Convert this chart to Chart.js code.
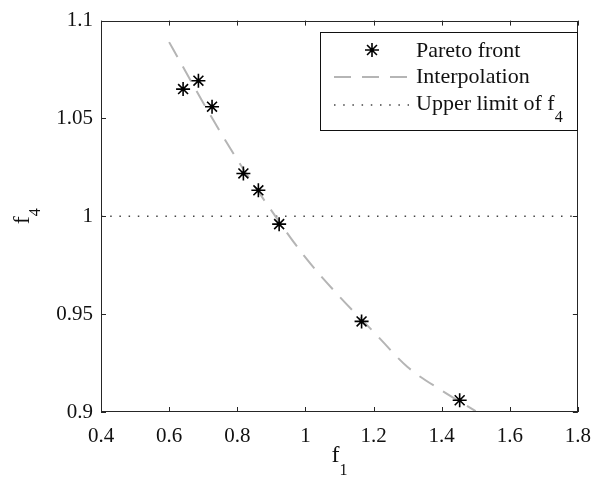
<!DOCTYPE html>
<html><head><meta charset="utf-8">
<script src="https://cdn.jsdelivr.net/npm/chart.js@4/dist/chart.umd.min.js"></script>
<style>html,body{margin:0;padding:0;background:#fff;}</style>
</head><body>
<canvas id="c" width="603" height="477"></canvas>
<script>
// Pareto front points (f1, f4)
const paretoF1 = [0.641, 0.686, 0.726, 0.818, 0.862, 0.923, 1.165, 1.453];
const paretoF4 = [1.065, 1.0693, 1.056, 1.0219, 1.0133, 0.996, 0.9463, 0.906];
// Interpolation curve
const interpF1 = [0.6, 0.65, 0.7, 0.8, 0.9, 1.0, 1.1, 1.2, 1.3, 1.4, 1.5];
const interpF4 = [1.089, 1.0735, 1.058, 1.029, 1.003, 0.979, 0.959, 0.941, 0.923, 0.911, 0.9005];
// Upper limit of f4
const limitF1 = [0.4, 1.8];
const limitF4 = [1, 1];
// Ticks
const xTickValues = [0.4, 0.6, 0.8, 1.0, 1.2, 1.4, 1.6, 1.8];
const xTickLabels = ['0.4', '0.6', '0.8', '1', '1.2', '1.4', '1.6', '1.8'];
const yTickValues = [0.9, 0.95, 1.0, 1.05, 1.1];
const yTickLabels = ['0.9', '0.95', '1', '1.05', '1.1'];
const legendLabels = ['Pareto front', 'Interpolation', 'Upper limit of f'];

const FONT = '"Liberation Serif", "Times New Roman", serif';
const DASH = [17, 11];
const DOT = [1.5, 7.7];
const GRAY = '#b5b5b5';

const toPts = (xs, ys) => xs.map((v, i) => ({x: v, y: ys[i]}));

const deco = {
  id: 'deco',
  afterDraw(chart) {
    const ctx = chart.ctx, a = chart.chartArea, x = chart.scales.x, y = chart.scales.y;
    ctx.save();
    ctx.strokeStyle = '#262626';
    ctx.lineWidth = 1;
    ctx.strokeRect(Math.round(a.left) + 0.5, Math.round(a.top) + 0.5,
                   Math.round(a.right - a.left) - 1, Math.round(a.bottom - a.top) - 1);
    ctx.beginPath();
    xTickValues.forEach(v => {
      const px = Math.round(x.getPixelForValue(v)) + 0.5;
      ctx.moveTo(px, a.bottom); ctx.lineTo(px, a.bottom - 5);
      ctx.moveTo(px, a.top); ctx.lineTo(px, a.top + 5);
    });
    yTickValues.forEach(v => {
      const py = Math.round(y.getPixelForValue(v)) + 0.5;
      ctx.moveTo(a.left, py); ctx.lineTo(a.left + 5, py);
      ctx.moveTo(a.right, py); ctx.lineTo(a.right - 5, py);
    });
    ctx.stroke();

    // axis titles with subscripts
    ctx.fillStyle = '#111';
    ctx.textBaseline = 'alphabetic';
    ctx.textAlign = 'left';
    const big = '24px ' + FONT, small = '16px ' + FONT;
    ctx.font = big; const wf = ctx.measureText('f').width;
    ctx.font = small; const w1 = ctx.measureText('1').width;
    const cx = (a.left + a.right) / 2;
    let sx = cx - (wf + w1) / 2;
    ctx.font = big; ctx.fillText('f', sx, 462);
    ctx.font = small; ctx.fillText('1', sx + wf, 475);

    ctx.save();
    ctx.translate(29, (a.top + a.bottom) / 2);
    ctx.rotate(-Math.PI / 2);
    ctx.font = small; const w4 = ctx.measureText('4').width;
    sx = -(wf + w4) / 2;
    ctx.font = big; ctx.fillText('f', sx, 0);
    ctx.font = small; ctx.fillText('4', sx + wf, 11);
    ctx.restore();

    // legend
    const L = 320, T = 32, W = 257, H = 98;
    ctx.fillStyle = '#fff';
    ctx.fillRect(L, T, W, H);
    ctx.strokeStyle = '#111';
    ctx.lineWidth = 1;
    ctx.strokeRect(L + 0.5, T + 0.5, W, H);
    const rows = [50, 77, 105];
    const tx = 416;
    const lf = '22px ' + FONT;
    ctx.fillStyle = '#111';
    ctx.font = lf;
    ctx.textBaseline = 'alphabetic';
    ctx.fillText(legendLabels[0], tx, rows[0] + 7);
    ctx.fillText(legendLabels[1], tx, rows[1] + 6);
    ctx.fillText(legendLabels[2], tx, rows[2] + 5);
    const wu = ctx.measureText(legendLabels[2]).width;
    ctx.font = '16px ' + FONT;
    ctx.fillText('4', tx + wu, rows[2] + 17);
    // star sample
    const sc = 372, r = 7;
    ctx.strokeStyle = '#000'; ctx.lineWidth = 1.6;
    ctx.beginPath();
    for (let k = 0; k < 4; k++) {
      const ang = k * Math.PI / 4;
      ctx.moveTo(sc - r * Math.cos(ang), rows[0] - r * Math.sin(ang));
      ctx.lineTo(sc + r * Math.cos(ang), rows[0] + r * Math.sin(ang));
    }
    ctx.stroke();
    // dash sample
    ctx.strokeStyle = GRAY; ctx.lineWidth = 2; ctx.setLineDash(DASH);
    ctx.beginPath(); ctx.moveTo(334, rows[1]); ctx.lineTo(409, rows[1]); ctx.stroke();
    // dot sample
    ctx.strokeStyle = '#444'; ctx.lineWidth = 1.5; ctx.setLineDash(DOT);
    ctx.beginPath(); ctx.moveTo(334, rows[2]); ctx.lineTo(409, rows[2]); ctx.stroke();
    ctx.restore();
  }
};

new Chart(document.getElementById('c'), {
  type: 'scatter',
  data: {
    datasets: [
      {
        label: legendLabels[0],
        data: toPts(paretoF1, paretoF4),
        pointStyle: 'star', pointRadius: 7, pointHoverRadius: 7,
        borderColor: '#000', backgroundColor: '#000', pointBorderWidth: 1.6,
        showLine: false, order: 0
      },
      {
        label: legendLabels[1],
        data: toPts(interpF1, interpF4),
        showLine: true, pointRadius: 0, borderColor: GRAY, borderWidth: 2,
        borderDash: DASH, cubicInterpolationMode: 'monotone', order: 1
      },
      {
        label: legendLabels[2],
        data: toPts(limitF1, limitF4),
        showLine: true, pointRadius: 0, borderColor: '#444', borderWidth: 1.5,
        borderDash: DOT, order: 2
      }
    ]
  },
  options: {
    responsive: false,
    animation: false,
    devicePixelRatio: 1,
    layout: { padding: { top: 20, right: 13, left: 0, bottom: 0 } },
    plugins: { legend: { display: false }, tooltip: { enabled: false } },
    scales: {
      x: {
        type: 'linear', min: 0.4, max: 1.8,
        afterBuildTicks: s => { s.ticks = xTickValues.map(v => ({value: v})); },
        afterFit: s => { s.height = 65; },
        grid: { display: false, drawTicks: false },
        border: { display: false },
        ticks: {
          padding: 12, color: '#111', font: { family: FONT, size: 21 },
          callback: (v, i) => xTickLabels[i]
        }
      },
      y: {
        type: 'linear', min: 0.9, max: 1.1,
        afterBuildTicks: s => { s.ticks = yTickValues.map(v => ({value: v})); },
        afterFit: s => { s.width = 101; },
        grid: { display: false, drawTicks: false },
        border: { display: false },
        ticks: {
          padding: 8, color: '#111', font: { family: FONT, size: 21 },
          callback: (v, i) => yTickLabels[i]
        }
      }
    }
  },
  plugins: [deco]
});
</script>
</body></html>
